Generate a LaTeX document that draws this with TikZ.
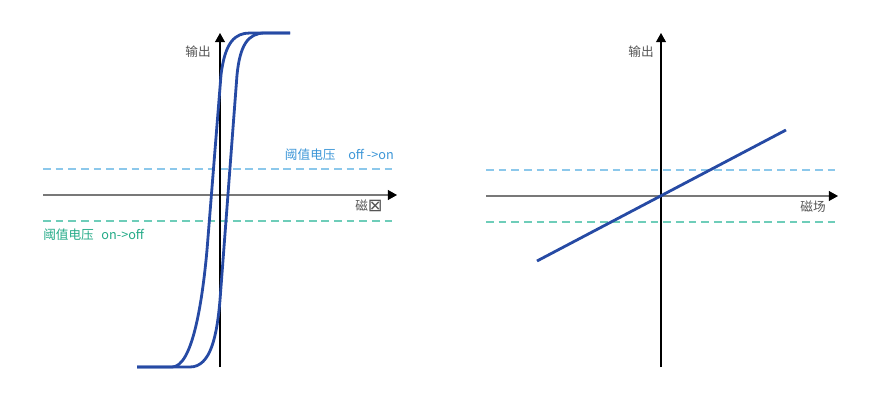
\documentclass[tikz,border=0pt]{standalone}
\usepackage{fontspec}
\usetikzlibrary{arrows.meta}
\newfontfamily\cjk{Noto Sans CJK SC}
\newfontfamily\symfont{DejaVu Sans}
\definecolor{curveblue}{RGB}{38,74,164}
\definecolor{onblue}{RGB}{140,200,235}
\definecolor{onbluetext}{RGB}{60,150,215}
\definecolor{offgreen}{RGB}{110,205,185}
\definecolor{offgreentext}{RGB}{35,170,135}
\definecolor{axisgray}{RGB}{120,120,120}
\definecolor{labelgray}{RGB}{85,85,85}
\tikzset{
  axis/.style={line width=0.8pt,-{Triangle[length=2.3mm,width=2.5mm,color=black]}},
  curve/.style={curveblue,line width=2pt,line join=round},
  thresh/.style={line width=1pt,dash pattern=on 5.5pt off 3.5pt},
  lbl/.style={font=\cjk\fontsize{9}{11}\selectfont,inner sep=0pt},
}
\begin{document}
\begin{tikzpicture}[x=0.025cm,y=-0.025cm]
    \useasboundingbox (0,0) rectangle (880,400);

    % hysteresis
    \coordinate (hl) at (43,195);  \coordinate (hr) at (397,195);
    \coordinate (vb) at (220,367); \coordinate (vt) at (220,33);
    \draw[thresh,onblue](hl|-0,169)--(hr|-0,169);
    \draw[thresh,offgreen](hl|-0,221)--(hr|-0,221);
    \draw[axis,axisgray](hl)--(hr);
    \draw[axis,black](vb)--(vt);
    \node[lbl,labelgray,anchor=east] (out1) at (211,52) {输出};
    \node[lbl,labelgray,anchor=east] (field1) at (383,206) {磁\raisebox{-0.12em}{\symfont\fontsize{12.5}{12}\selectfont ⊠}};
    \node[lbl,onbluetext,anchor=east] (onlbl) at (394,155) {阈值电压\hspace{1em}off ->on};
    \node[lbl,offgreentext,anchor=west] (offlbl) at (43,235) {阈值电压\hspace{0.6em}on->off};
    \draw[curve](137,367)--(172,367)..controls(192,367)and(202,305)..(207,250)
        --(221,75)..controls(225,42)and(235,33)..(250,33)--(290,33);
    \draw[curve](137,367)--(190,367)..controls(211,367)and(217,335)..(220,300)
        --(237,75)..controls(240,45)and(248,33)..(265,33)--(290,33);

    % linear
    \coordinate (Hl) at (486,196); \coordinate (Hr) at (838,196);
    \coordinate (Vb) at (661,367); \coordinate (Vt) at (661,33);
    \draw[thresh,onblue](Hl|-0,170)--(Hr|-0,170);
    \draw[thresh,offgreen](Hl|-0,222)--(Hr|-0,222);
    \draw[axis,axisgray](Hl)--(Hr);
    \draw[axis,black](Vb)--(Vt);
    \node[lbl,labelgray,anchor=east] (out2) at (654,52) {输出};
    \node[lbl,labelgray,anchor=east] (field2) at (826,207) {磁场};
    \coordinate (la) at (537,261); \coordinate (lb) at (786,130);
    \draw[curve](la)--(lb);
\end{tikzpicture}
\end{document}
